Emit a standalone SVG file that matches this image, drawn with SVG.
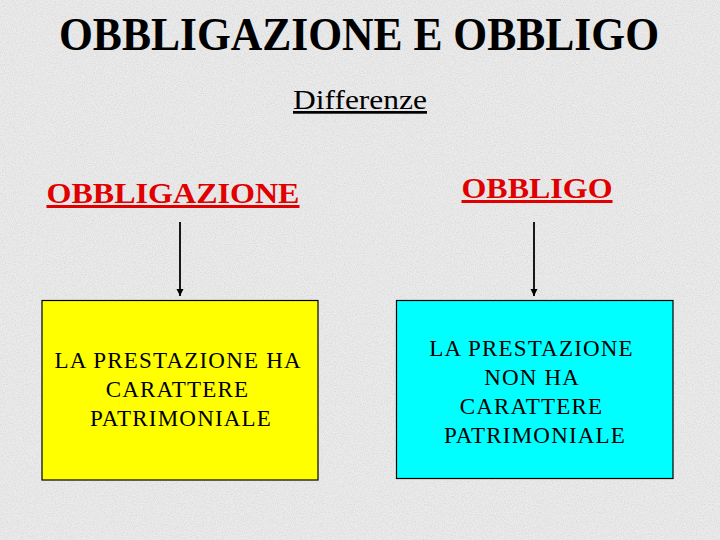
<svg xmlns="http://www.w3.org/2000/svg" width="720" height="540" viewBox="0 0 720 540">
  <defs>
    <filter id="grain" x="0" y="0" width="100%" height="100%">
      <feTurbulence type="fractalNoise" baseFrequency="0.9" numOctaves="2" seed="3" result="n"/>
      <feColorMatrix in="n" type="matrix" values="0 0 0 0 0.55  0 0 0 0 0.55  0 0 0 0 0.55  0 0 0 -1.6 1.0" result="g"/>
      <feComposite in="g" in2="SourceGraphic" operator="in"/>
    </filter>
    <marker id="arrow" viewBox="0 0 10 10" refX="10" refY="5" markerWidth="4" markerHeight="4" orient="auto" markerUnits="strokeWidth">
      <path d="M0,0 L10,5 L0,10 Z" fill="#000"/>
    </marker>
    <style>
      .title { font-family: "Liberation Serif", "Times New Roman", serif; font-weight: bold; font-size: 47px; fill: #000; }
      .sub { font-family: "Liberation Serif", "Times New Roman", serif; font-size: 27px; fill: #000; text-decoration: underline; }
      .head { font-family: "Liberation Serif", "Times New Roman", serif; font-weight: bold; font-size: 30px; fill: #e00000; text-decoration: underline; }
      .box { stroke: #000; stroke-width: 1.2; }
      .btxt { font-family: "Liberation Serif", "Times New Roman", serif; font-size: 23px; fill: #000; letter-spacing: 1.2px; }
      .conn { stroke: #000; stroke-width: 1.8; fill: none; }
    </style>
  </defs>

  <rect x="0" y="0" width="720" height="540" fill="#ebebeb"/>
  <rect x="0" y="0" width="720" height="540" fill="#ebebeb" filter="url(#grain)" opacity="0.55"/>

  <g id="title">
    <text class="title" x="359" y="50" text-anchor="middle" textLength="600" lengthAdjust="spacingAndGlyphs">OBBLIGAZIONE E OBBLIGO</text>
  </g>
  <g id="subtitle">
    <text class="sub" x="360" y="109" text-anchor="middle" textLength="134" lengthAdjust="spacingAndGlyphs">Differenze</text>
  </g>

  <g id="obbligazione">
    <text class="head" x="173" y="203" text-anchor="middle" textLength="253" lengthAdjust="spacingAndGlyphs">OBBLIGAZIONE</text>
  </g>
  <g id="obbligo">
    <text class="head" x="537" y="198" text-anchor="middle" textLength="151" lengthAdjust="spacingAndGlyphs">OBBLIGO</text>
  </g>

  <g id="box-left">
    <rect class="box" x="42" y="300.5" width="276" height="179.5" fill="#ffff00"/>
    <text class="btxt" text-anchor="middle">
      <tspan x="181" y="368">LA PRESTAZIONE HA</tspan>
      <tspan x="181" y="397">CARATTERE</tspan>
      <tspan x="181" y="426">PATRIMONIALE</tspan>
    </text>
  </g>

  <g id="box-right">
    <rect class="box" x="396.5" y="300.5" width="276.5" height="178" fill="#00ffff"/>
    <text class="btxt" text-anchor="middle">
      <tspan x="535" y="356">LA PRESTAZIONE</tspan>
      <tspan x="535" y="385">NON HA</tspan>
      <tspan x="535" y="414">CARATTERE</tspan>
      <tspan x="535" y="443">PATRIMONIALE</tspan>
    </text>
  </g>

  <g id="connectors">
    <line class="conn" x1="180" y1="222" x2="180" y2="296" marker-end="url(#arrow)"/>
    <line class="conn" x1="534" y1="222" x2="534" y2="296" marker-end="url(#arrow)"/>
  </g>
</svg>
